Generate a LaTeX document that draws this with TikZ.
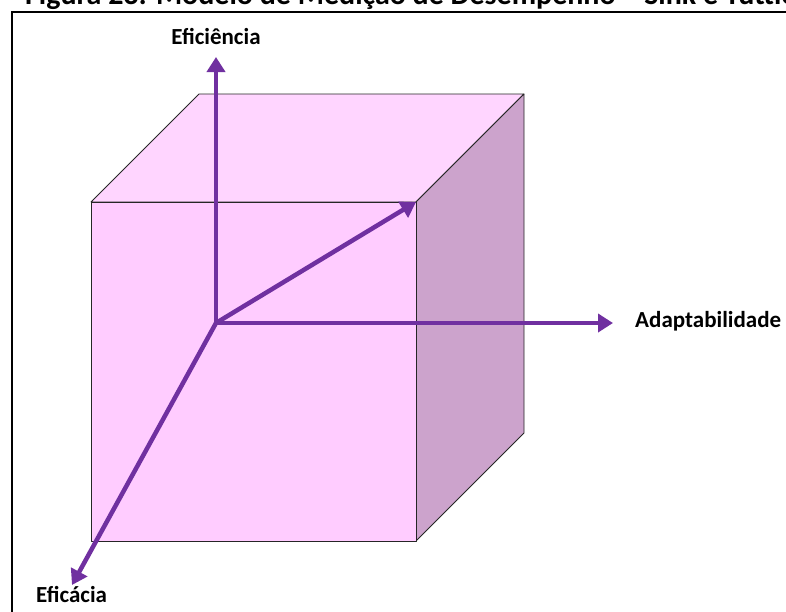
\documentclass[tikz,border=0pt]{standalone}
\usepackage{fontspec}
\setmainfont{Carlito}
\usetikzlibrary{arrows.meta}
\definecolor{frontc}{HTML}{FFCCFF}
\definecolor{topc}{HTML}{FFD5FF}
\definecolor{sidec}{HTML}{CCA3CC}
\definecolor{axisc}{HTML}{7030A0}
\begin{document}
\begin{tikzpicture}[x=1pt,y=-1pt,
  axis/.style={draw=axisc, line width=4.5pt, -{Triangle[length=15pt,width=18pt]}},
  lbl/.style={font=\fontsize{23}{27}\selectfont\bfseries, inner sep=0pt},
  face/.style={draw=black!85, line width=0.8pt, line join=round}]
\useasboundingbox (0,0) rectangle (786,611);
\clip (0,0) rectangle (786,611);
% title (cut off at top in the reference)
\node[anchor=base west, font=\fontsize{30}{36}\selectfont\bfseries, inner sep=0pt] (title) at (25,4) {Figura 23: Modelo de Medição de Desempenho – Sink e Tuttle};
% frame
\draw[line width=1.5pt] (12,660) -- (12,12) -- (840,12);
% cube
\coordinate (ftl) at (91,202);
\coordinate (ftr) at (416,202);
\coordinate (fbr) at (416,541);
\coordinate (fbl) at (91,541);
\coordinate (btl) at (199,94);
\coordinate (btr) at (524,94);
\coordinate (bbr) at (524,433);
\filldraw[face, fill=topc] (ftl) -- (btl) -- (btr) -- (ftr) -- cycle;
\filldraw[face, fill=sidec] (ftr) -- (btr) -- (bbr) -- (fbr) -- cycle;
\filldraw[face, fill=frontc] (ftl) -- (ftr) -- (fbr) -- (fbl) -- cycle;
% axes
\coordinate (O) at (216,323);
\coordinate (tipUp) at (216,57);
\coordinate (tipRight) at (613,323);
\coordinate (tipDown) at (72,585);
\draw[axis] (O) -- (tipUp);
\draw[axis] (O) -- (tipRight);
\draw[axis] (O) -- (ftr);
\draw[axis] (O) -- (tipDown);
% labels
\node[lbl, anchor=base] (efi) at (216,44) {Eficiência};
\node[lbl, anchor=base west] (ada) at (635,327) {Adaptabilidade};
\node[lbl, anchor=base west] (efc) at (36,602) {Eficácia};
\end{tikzpicture}
\end{document}
